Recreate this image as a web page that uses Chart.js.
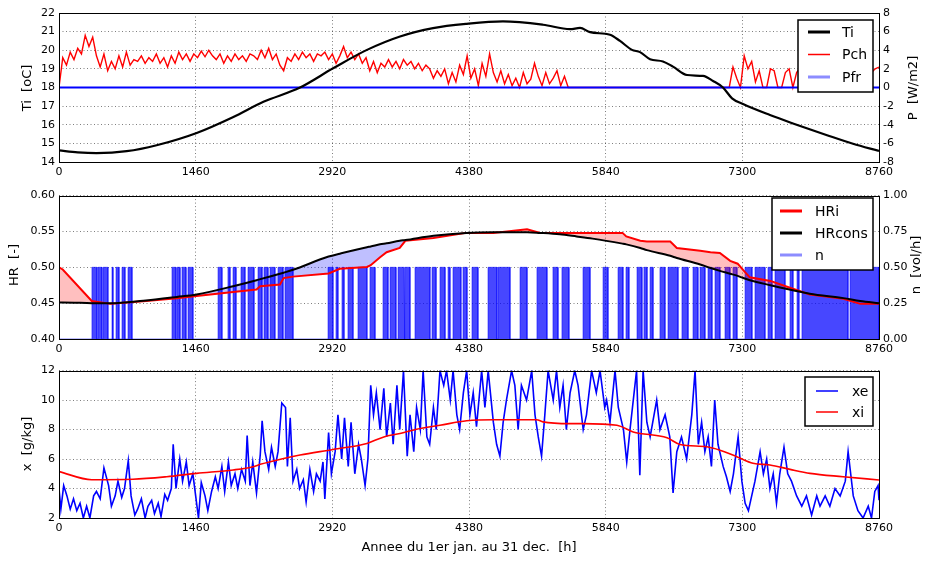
<!DOCTYPE html>
<html>
<head>
<meta charset="utf-8">
<script src="https://cdn.jsdelivr.net/npm/chart.js@4.4.1/dist/chart.umd.min.js"></script>
<style>
body { margin: 0; background: #fff; width: 931px; height: 563px; overflow: hidden; position: relative; }
canvas { position: absolute; left: 0; }
</style>
</head>
<body>
<canvas id="c1" width="931" height="185" style="top:0px"></canvas>
<canvas id="c2" width="931" height="175" style="top:185px"></canvas>
<canvas id="c3" width="931" height="203" style="top:360px"></canvas>
<script>
// x axis: hours of the year
const X_MAX = 8760;
const X_STEP = 1460;

// panel 1 : Ti (left axis), Pch / Pfr (right axis)
const tiT = [0, 200, 400, 723, 1043, 1471, 1863, 2184, 2575, 2928, 3290, 3643, 3996, 4355, 4743, 5171, 5459, 5566, 5673, 5886, 5993, 6121, 6207, 6314, 6452, 6559, 6709, 6880, 6987, 7093, 7190, 7307, 7595, 7841, 8205, 8482, 8760];
const tiV = [14.62, 14.52, 14.48, 14.58, 14.9, 15.56, 16.42, 17.23, 18.0, 19.03, 20.02, 20.74, 21.19, 21.42, 21.55, 21.37, 21.13, 21.2, 20.97, 20.83, 20.5, 20.02, 19.9, 19.52, 19.4, 19.12, 18.67, 18.62, 18.35, 18.0, 17.42, 17.11, 16.52, 16.07, 15.44, 14.98, 14.59];

const pchStep = 40;
const pchV = [
  0, 3.2, 2.4, 3.8, 3.0, 4.2, 3.6, 5.6, 4.4, 5.4,
  3.4, 2.2, 3.6, 1.8, 2.8, 2.0, 3.4, 2.2, 3.8, 2.4,
  3.0, 2.8, 3.4, 2.6, 3.2, 2.8, 3.6, 2.6, 3.2, 2.2,
  3.4, 2.6, 3.8, 3.0, 3.6, 2.8, 3.6, 3.2, 3.9, 3.3,
  4.0, 3.4, 3.0, 3.6, 2.6, 3.4, 2.8, 3.6, 3.0, 3.4,
  2.8, 3.6, 3.4, 3.0, 4.0, 3.2, 4.2, 3.0, 3.6, 2.4,
  1.8, 3.2, 2.8, 3.6, 3.0, 3.8, 3.2, 3.6, 2.8, 3.6,
  3.4, 3.8, 3.0, 3.6, 2.6, 3.4, 4.4, 3.2, 3.8, 3.0,
  3.6, 2.6, 3.2, 1.8, 2.8, 1.6, 2.6, 2.2, 3.0, 2.2,
  2.8, 2.0, 3.0, 2.4, 2.8, 2.0, 2.6, 1.8, 2.4, 2.0,
  1.0, 1.8, 1.2, 2.0, 0.4, 1.6, 0.6, 2.4, 1.4, 3.4,
  1.0, 2.0, 0.2, 2.6, 1.2, 3.6, 1.6, 0.6, 1.8, 0.4,
  1.4, 0.2, 1.0, 0.0, 1.6, 0.4, 0.9, 2.6, 1.2, 0.2,
  1.6, 0.4, 1.0, 1.8, 0.2, 1.2, 0, 0, 0, 0,
  0, 0, 0, 0, 0, 0, 0, 0, 0, 0,
  0, 0, 0, 0, 0, 0, 0, 0, 0, 0,
  0, 0, 0, 0, 0, 0, 0, 0, 0, 0,
  0, 0, 0, 0, 0, 0, 0, 0, 0, 0,
  2.2, 1.0, 0.0, 3.4, 2.0, 2.8, 0.6, 1.8, 0, 0,
  2.0, 1.8, 0, 0, 1.6, 2.0, 0, 1.6, 2.2, 1.4,
  2.0, 0.8, 2.4, 1.6, 0, 1.8, 2.2, 1.2, 2.6, 1.8,
  0.4, 2.0, 1.6, 2.4, 1.2, 2.0, 2.6, 1.6, 2.0, 2.2
];
const pfrT = [0, 8760];
const pfrV = [0, 0];

// panel 2 : HRi / HRcons (left axis), n (right axis)
const hrT = [0, 40, 350, 550, 900, 1260, 1470, 1860, 2110, 2150, 2360, 2400, 2500, 2880, 3000, 3290, 3330, 3430, 3500, 3640, 3700, 4000, 4350, 4640, 5000, 5140, 5350, 5530, 5700, 6020, 6060, 6210, 6280, 6530, 6600, 6850, 6960, 7060, 7170, 7250, 7310, 7380, 7600, 7840, 8020, 8380, 8560, 8760];
const hrCons = [0.451, 0.451, 0.450, 0.4497, 0.4533, 0.4587, 0.4622, 0.4736, 0.482, 0.4835, 0.491, 0.4925, 0.4965, 0.515, 0.519, 0.528, 0.529, 0.532, 0.5335, 0.537, 0.538, 0.544, 0.548, 0.549, 0.549, 0.548, 0.546, 0.543, 0.540, 0.533, 0.532, 0.527, 0.524, 0.516, 0.513, 0.504, 0.499, 0.495, 0.491, 0.488, 0.485, 0.482, 0.475, 0.468, 0.463, 0.457, 0.453, 0.450];
const hrI = [0.500, 0.497, 0.453, 0.449, 0.4525, 0.457, 0.460, 0.4655, 0.469, 0.4735, 0.476, 0.485, 0.487, 0.4915, 0.498, 0.5005, 0.503, 0.514, 0.521, 0.527, 0.537, 0.541, 0.548, 0.548, 0.553, 0.548, 0.548, 0.548, 0.548, 0.548, 0.543, 0.537, 0.536, 0.536, 0.527, 0.523, 0.521, 0.520, 0.509, 0.505, 0.496, 0.486, 0.481, 0.470, 0.462, 0.456, 0.449, 0.449];

const nValue = 0.5;
const nOn = [
  [352, 406], [417, 459], [470, 523], [566, 577], [609, 641], [673, 705], [737, 780],
  [1207, 1250], [1261, 1293], [1314, 1357], [1378, 1431],
  [1699, 1741], [1805, 1827], [1859, 1891], [1944, 1987], [2019, 2083], [2126, 2169], [2190, 2233], [2254, 2307], [2340, 2393], [2414, 2500],
  [2874, 2927], [2959, 2980], [3023, 3045], [3087, 3141], [3194, 3290], [3322, 3376], [3461, 3515], [3536, 3600], [3622, 3686], [3696, 3750],
  [3803, 3963], [3985, 4028], [4070, 4124], [4156, 4177], [4209, 4294], [4316, 4359], [4412, 4476], [4583, 4679], [4690, 4818], [4925, 5000],
  [5106, 5213], [5277, 5331], [5373, 5448], [5598, 5673], [5812, 5865],
  [5972, 6025], [6057, 6089], [6175, 6228], [6249, 6282], [6314, 6346], [6420, 6474], [6506, 6613], [6655, 6720], [6773, 6826], [6848, 6901],
  [6933, 6976], [7008, 7061], [7115, 7168], [7200, 7243], [7329, 7403], [7435, 7542], [7574, 7617], [7649, 7756], [7809, 7841], [7884, 7905],
  [7937, 8429], [8450, 8760]
];

// panel 3 : xe / xi
const xeT = [0, 20, 50, 85, 120, 155, 190, 225, 260, 295, 330, 370, 400, 440, 480, 530, 560, 600, 630, 670, 700, 740, 770, 810, 840, 880, 920, 950, 990, 1020,
  1060, 1090, 1130, 1160, 1200, 1220, 1250, 1290, 1320, 1360, 1390, 1430, 1460, 1490, 1520, 1560, 1590, 1630, 1670, 1700, 1740, 1770, 1810, 1840, 1880, 1910, 1950, 1990, 2010, 2040,
  2070, 2110, 2150, 2170, 2200, 2240, 2270, 2310, 2340, 2380, 2420, 2440, 2470, 2500, 2540, 2570, 2610, 2640, 2680, 2720, 2750, 2790, 2820, 2840, 2880, 2910, 2950, 2980, 3020, 3050,
  3090, 3120, 3160, 3200, 3230, 3270, 3300, 3330, 3360, 3390, 3430, 3470, 3500, 3540, 3570, 3610, 3640, 3680, 3720, 3750, 3790, 3820, 3860, 3890, 3930, 3960, 4000, 4030, 4070, 4110,
  4140, 4180, 4210, 4250, 4280, 4320, 4355, 4390, 4425, 4460, 4515, 4550, 4585, 4640, 4675, 4710, 4745, 4780, 4835, 4870, 4905, 4940, 4995, 5050, 5085, 5120, 5155, 5190, 5225, 5280,
  5315, 5350, 5385, 5420, 5460, 5510, 5545, 5600, 5635, 5690, 5740, 5780, 5830, 5850, 5886, 5940, 5975, 6030, 6065, 6100, 6135, 6170, 6205, 6240, 6280, 6315, 6385, 6420, 6475, 6525,
  6560, 6600, 6650, 6705, 6760, 6795, 6830, 6865, 6900, 6935, 6970, 7005, 7040, 7095, 7130, 7170, 7205, 7255, 7295, 7330, 7365, 7400, 7435, 7490, 7525, 7560, 7595, 7630, 7665, 7700,
  7745, 7785, 7825, 7880, 7935, 7985, 8040, 8095, 8130, 8185, 8235, 8290, 8345, 8400, 8430, 8485, 8535, 8590, 8645, 8680, 8715, 8750, 8760];
const xeV = [4.0, 2.6, 4.2, 3.5, 2.6, 3.3, 2.5, 3.0, 2.0, 2.8, 2.0, 3.5, 3.8, 3.3, 5.4, 4.2, 2.8, 3.5, 4.5, 3.4, 4.0, 5.9, 3.5, 2.2, 2.6, 3.3, 2.0, 2.8, 3.2, 2.3,
  3.0, 2.1, 3.6, 3.2, 4.0, 7.0, 4.0, 6.0, 4.5, 5.8, 4.2, 5.0, 3.5, 2.0, 4.4, 3.5, 2.5, 3.8, 4.8, 4.0, 5.5, 3.8, 5.8, 4.2, 5.0, 4.0, 5.3, 4.5, 7.6, 4.2,
  5.8, 3.7, 6.3, 8.6, 6.5, 5.3, 6.8, 5.5, 6.5, 9.8, 9.5, 5.5, 8.8, 4.5, 5.3, 4.0, 4.6, 3.1, 5.3, 3.8, 5.0, 4.5, 5.8, 3.3, 7.8, 5.0, 6.5, 9.0, 6.0, 8.8,
  5.5, 8.5, 5.0, 7.0, 6.0, 4.2, 6.0, 11.0, 9.0, 10.5, 8.0, 10.8, 7.5, 9.8, 7.0, 11.0, 8.0, 12.0, 6.2, 9.0, 6.5, 9.5, 8.0, 12.0, 7.5, 7.0, 9.5, 8.0, 12.0, 11.0,
  12.0, 10.0, 12.0, 9.0, 8.0, 10.5, 12.0, 9.0, 10.5, 8.2, 12.0, 9.5, 12.0, 8.5, 7.0, 6.2, 8.5, 10.0, 12.0, 11.0, 8.0, 11.0, 10.0, 12.0, 9.0, 7.5, 6.2, 9.0, 12.0, 10.0,
  12.0, 9.5, 11.0, 8.0, 10.5, 12.0, 11.0, 8.0, 9.0, 12.0, 10.5, 12.0, 9.5, 10.0, 8.5, 12.0, 9.5, 8.0, 5.8, 8.0, 10.0, 12.0, 4.9, 12.0, 8.5, 7.5, 10.0, 8.0, 9.0, 7.5,
  3.7, 6.5, 7.5, 6.0, 9.0, 12.0, 7.0, 8.5, 6.5, 7.5, 5.5, 10.0, 7.0, 5.5, 4.8, 3.8, 5.0, 7.5, 4.5, 3.0, 2.5, 3.5, 4.5, 6.5, 5.0, 6.0, 4.0, 5.0, 3.0, 5.0,
  6.8, 5.0, 4.5, 3.5, 2.8, 3.5, 2.2, 3.5, 2.8, 3.5, 2.8, 4.0, 3.5, 4.5, 6.5, 3.5, 2.5, 2.0, 2.8, 2.0, 3.8, 4.2, 3.2];

const xiT = [0, 350, 790, 1150, 1470, 1860, 2075, 2150, 2400, 2575, 2928, 3290, 3470, 3643, 3820, 4070, 4355, 4640, 5102, 5170, 5459, 5600, 5960, 6134, 6496, 6634, 6920, 7061, 7240, 7414, 7595, 7810, 8023, 8376, 8760];
const xiV = [5.15, 4.6, 4.63, 4.8, 5.03, 5.26, 5.48, 5.64, 6.04, 6.27, 6.65, 7.06, 7.5, 7.73, 8.02, 8.29, 8.6, 8.67, 8.67, 8.52, 8.4, 8.4, 8.29, 7.84, 7.44, 6.99, 6.83, 6.6, 6.16, 5.71, 5.6, 5.3, 5.03, 4.8, 4.58];

// ---------------------------------------------------------------
Chart.defaults.font.family = '"DejaVu Sans", sans-serif';
Chart.defaults.font.size = 11;
Chart.defaults.color = '#000';

const pts = (xs, ys) => xs.map((x, i) => ({ x: x, y: ys[i] }));

const nPts = [{ x: 0, y: 0 }];
nOn.forEach(([a, b]) => {
  nPts.push({ x: a, y: 0 }, { x: a, y: nValue }, { x: b, y: nValue }, { x: b, y: 0 });
});
nPts.push({ x: X_MAX, y: 0 });

const GRID = 'rgba(0,0,0,0.5)';
const DASH = [1, 2.5];

// frame, axis titles and legend box drawn the matplotlib way
const framePlugin = {
  id: 'frame',
  afterDraw(chart, args, opts) {
    const ctx = chart.ctx, a = chart.chartArea;
    ctx.save();
    ctx.strokeStyle = '#000';
    ctx.lineWidth = 1;
    ctx.strokeRect(Math.round(a.left) + 0.5, Math.round(a.top) + 0.5, Math.round(a.right - a.left), Math.round(a.bottom - a.top));

    ctx.fillStyle = '#000';
    ctx.font = '13px "DejaVu Sans"';
    ctx.textAlign = 'center';
    ctx.textBaseline = 'middle';
    (opts.titles || []).forEach(t => {
      ctx.save();
      ctx.translate(t.x, t.y);
      ctx.rotate(t.rot || 0);
      ctx.fillText(t.text, 0, 0);
      ctx.restore();
    });

    const L = opts.legend;
    ctx.fillStyle = '#fff';
    ctx.fillRect(L.x, L.y, L.w, L.h);
    ctx.strokeStyle = '#000';
    ctx.lineWidth = 1.5;
    ctx.strokeRect(L.x, L.y, L.w, L.h);
    ctx.font = '14px "DejaVu Sans"';
    ctx.textAlign = 'left';
    chart.data.datasets.forEach((ds, i) => {
      const y = L.y + L.first + i * L.gap;
      ctx.strokeStyle = ds.legendColor || ds.borderColor;
      ctx.lineWidth = ds.legendWidth || ds.borderWidth;
      ctx.beginPath();
      ctx.moveTo(L.lx, y);
      ctx.lineTo(L.lx + 22, y);
      ctx.stroke();
      ctx.fillStyle = '#000';
      ctx.fillText(ds.label, L.tx, y + 1);
    });
    ctx.restore();
  }
};

function xAxis(h) {
  return {
    type: 'linear', min: 0, max: X_MAX,
    afterFit: s => { s.height = h; },
    ticks: { stepSize: X_STEP, autoSkip: false, maxRotation: 0, padding: 4, callback: v => String(v) },
    grid: { color: GRID, drawTicks: false },
    border: { display: false, dash: DASH }
  };
}
function yAxis(min, max, step, side, width, fmt, grid) {
  return {
    position: side, min: min, max: max,
    afterFit: s => { s.width = width; },
    ticks: { stepSize: step, padding: 4, callback: fmt },
    grid: { color: GRID, drawTicks: false, drawOnChartArea: grid },
    border: { display: false, dash: DASH }
  };
}
function baseOptions(padTop, padRight, scales, frame) {
  return {
    responsive: false,
    animation: false,
    events: [],
    layout: { padding: { top: padTop, right: padRight, left: 0, bottom: 0 } },
    scales: scales,
    elements: { point: { radius: 0 } },
    plugins: {
      legend: { display: false },
      tooltip: { enabled: false },
      frame: frame
    }
  };
}

// ---- panel 1
new Chart(document.getElementById('c1').getContext('2d'), {
  type: 'line',
  data: {
    datasets: [
      { label: 'Ti', data: pts(tiT, tiV), yAxisID: 'y', borderColor: '#000', borderWidth: 2.2,
        cubicInterpolationMode: 'monotone', order: 0, legendWidth: 3 },
      { label: 'Pch', data: pchV.map((v, i) => ({ x: i * pchStep, y: v })), yAxisID: 'y1',
        borderColor: '#ff0000', borderWidth: 1.4, order: 2, legendWidth: 1.5 },
      { label: 'Pfr', data: pts(pfrT, pfrV), yAxisID: 'y1', borderColor: '#0000ff', borderWidth: 1.8,
        order: 1, legendColor: 'rgba(0,0,255,0.45)', legendWidth: 3 }
    ]
  },
  options: baseOptions(13, 0, {
    x: xAxis(23),
    y: yAxis(14, 22, 1, 'left', 59, v => String(v), true),
    y1: yAxis(-8, 8, 2, 'right', 52, v => String(v), false)
  }, {
    titles: [
      { text: 'Ti  [oC]', x: 28, y: 88, rot: -Math.PI / 2 },
      { text: 'P  [W/m2]', x: 914, y: 88, rot: -Math.PI / 2 }
    ],
    legend: { x: 798, y: 20, w: 75, h: 72, first: 12, gap: 22.5, lx: 808, tx: 842 }
  }),
  plugins: [framePlugin]
});

// ---- panel 2
new Chart(document.getElementById('c2').getContext('2d'), {
  type: 'line',
  data: {
    datasets: [
      { label: 'HRi', data: pts(hrT, hrI), yAxisID: 'y', borderColor: '#ff0000', borderWidth: 2,
        fill: { target: 1, above: 'rgba(255,0,0,0.25)', below: 'rgba(0,0,255,0.25)' },
        order: 1, legendWidth: 3 },
      { label: 'HRcons', data: pts(hrT, hrCons), yAxisID: 'y', borderColor: '#000', borderWidth: 2,
        cubicInterpolationMode: 'monotone', order: 0, legendWidth: 3 },
      { label: 'n', data: nPts, yAxisID: 'y1', borderColor: 'rgba(0,0,255,0.5)', borderWidth: 1,
        backgroundColor: 'rgba(0,0,255,0.72)', fill: 'origin', order: 2,
        legendColor: 'rgba(0,0,255,0.45)', legendWidth: 3 }
    ]
  },
  options: baseOptions(7, 0, {
    x: xAxis(21),
    y: yAxis(0.4, 0.6, 0.05, 'left', 59, v => v.toFixed(2), true),
    y1: yAxis(0, 1, 0.25, 'right', 52, v => v.toFixed(2), false)
  }, {
    titles: [
      { text: 'HR  [-]', x: 15, y: 80, rot: -Math.PI / 2 },
      { text: 'n  [vol/h]', x: 917, y: 80, rot: -Math.PI / 2 }
    ],
    legend: { x: 772, y: 13, w: 101, h: 72, first: 13, gap: 22, lx: 780, tx: 815 }
  }),
  plugins: [framePlugin]
});

// ---- panel 3
new Chart(document.getElementById('c3').getContext('2d'), {
  type: 'line',
  data: {
    datasets: [
      { label: 'xe', data: pts(xeT, xeV), borderColor: '#0000ff', borderWidth: 1.6, order: 1, legendWidth: 1.5 },
      { label: 'xi', data: pts(xiT, xiV), borderColor: '#ff0000', borderWidth: 1.6,
        cubicInterpolationMode: 'monotone', order: 0, legendWidth: 1.5 }
    ]
  },
  options: baseOptions(10, 52, {
    x: xAxis(45),
    y: yAxis(2, 12, 2, 'left', 59, v => String(v), true)
  }, {
    titles: [
      { text: 'x  [g/kg]', x: 28, y: 84, rot: -Math.PI / 2 },
      { text: 'Annee du 1er jan. au 31 dec.  [h]', x: 469, y: 188, rot: 0 }
    ],
    legend: { x: 805, y: 17, w: 68, h: 49, first: 14, gap: 21, lx: 816, tx: 852 }
  }),
  plugins: [framePlugin]
});
</script>
</body>
</html>
